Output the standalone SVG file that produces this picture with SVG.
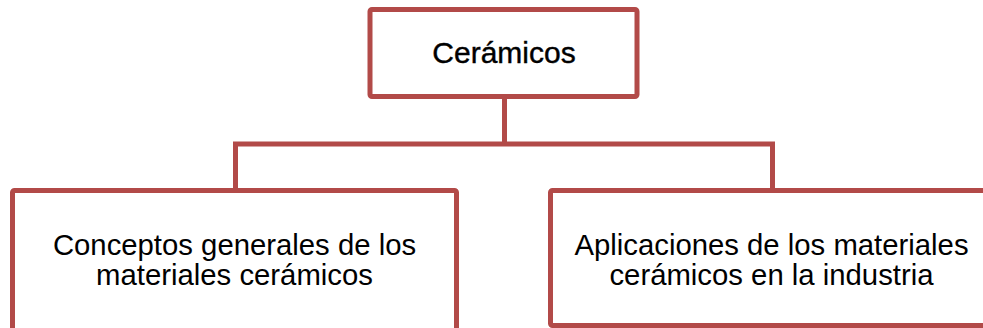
<svg xmlns="http://www.w3.org/2000/svg" width="983" height="328" viewBox="0 0 983 328">
<style>
.box{fill:#ffffff;stroke:#b24a48;stroke-width:5}
.conn{fill:none;stroke:#b24a48;stroke-width:5;stroke-linejoin:miter}
.t{font-family:"Liberation Sans",Arial,sans-serif;fill:#000000;text-anchor:middle;font-size:29.3px}
</style>
<rect width="983" height="328" fill="#ffffff"/>
<g id="connectors">
<path class="conn" d="M504.5 96.5 V144 M235.5 190.5 V144 H772.5 V190.5"/>
</g>
<g id="node-ceramicos">
<rect class="box" x="370" y="9.5" width="267" height="87" rx="2"/>
<text class="t" x="504" y="62.5" style="font-size:30px" stroke="#000000" stroke-width="0.4">Cerámicos</text>
</g>
<g id="node-conceptos">
<rect class="box" x="12.5" y="190.5" width="444" height="160" rx="2"/>
<text class="t"><tspan x="234.5" y="254.5">Conceptos generales de los</tspan><tspan x="234.5" y="285">materiales cerámicos</tspan></text>
</g>
<g id="node-aplicaciones">
<rect class="box" x="550.5" y="190.5" width="442" height="135" rx="2"/>
<text class="t"><tspan x="771.5" y="254.5">Aplicaciones de los materiales</tspan><tspan x="771.5" y="285">cerámicos en la industria</tspan></text>
</g>
</svg>
